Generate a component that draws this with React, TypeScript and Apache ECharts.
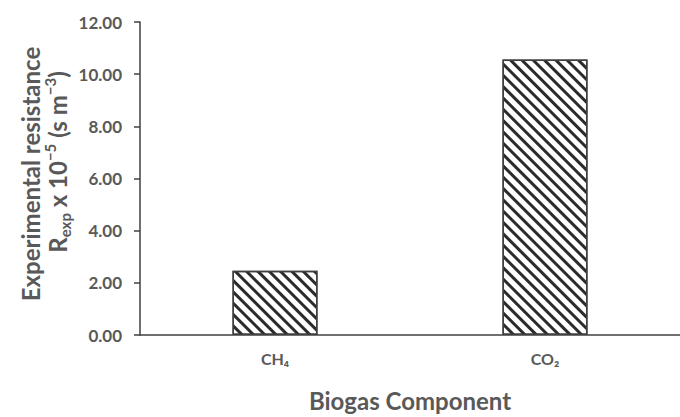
import React, { useEffect, useRef } from "react";
import * as echarts from "echarts";

const categories = ["CH₄", "CO₂"];
const values = [2.46, 10.56];
const yTicks = { min: 0, max: 12, interval: 2 };

const FONT = "Lato";
const TXT = "#595959";
const AX = "#404040";

export default function App() {
  const ref = useRef<HTMLDivElement>(null);
  useEffect(() => {
    const chart = echarts.init(ref.current!, undefined, { renderer: "svg" });
    chart.setOption({
      animation: false,
      grid: { left: 140, right: -7, top: 22, bottom: 73 },
      xAxis: {
        type: "category",
        data: categories,
        name: "Biogas Component",
        nameLocation: "middle",
        nameGap: 53,
        nameTextStyle: { fontFamily: FONT, fontWeight: "bold", fontSize: 24, color: TXT },
        axisLine: { lineStyle: { color: AX, width: 1.5 } },
        axisTick: { alignWithLabel: true, length: 4, lineStyle: { color: AX, width: 1.5 } },
        axisLabel: { fontFamily: FONT, fontWeight: "bold", fontSize: 16, color: TXT, margin: 15 },
      },
      yAxis: {
        type: "value",
        min: yTicks.min,
        max: yTicks.max,
        interval: yTicks.interval,
        splitLine: { show: false },
        axisLine: { show: true, lineStyle: { color: AX, width: 1.5 } },
        axisTick: { show: true, length: 6, lineStyle: { color: AX, width: 1.5 } },
        axisLabel: {
          fontFamily: FONT,
          fontWeight: "bold",
          fontSize: 17,
          color: TXT,
          margin: 18,
          formatter: (v: number) => v.toFixed(2),
        },
      },
      series: [
        {
          type: "bar",
          data: values,
          barWidth: "31.5%",
          itemStyle: {
            color: "#ffffff",
            borderColor: AX,
            borderWidth: 1.5,
            decal: {
              symbol: "rect",
              color: "#2b2b2b",
              dashArrayX: [1, 0],
              dashArrayY: [3, 4.5],
              rotation: Math.PI / 4,
            },
          },
        },
      ],
      graphic: [
        {
          type: "text",
          x: 30,
          y: 174,
          rotation: Math.PI / 2,
          style: {
            text: "Experimental resistance",
            fontFamily: FONT,
            fontWeight: "bold",
            fontSize: 24,
            fill: TXT,
            align: "center",
            verticalAlign: "middle",
          },
        },
        {
          type: "text",
          x: 57,
          y: 162,
          rotation: Math.PI / 2,
          style: {
            text: "{n|R}{sub|exp}{n| x 10}{sup|−5}{n| (s m}{sup|−3}{n|)}",
            align: "center",
            verticalAlign: "middle",
            rich: {
              n: { fontFamily: FONT, fontWeight: "bold", fontSize: 24, fill: TXT, lineHeight: 30, verticalAlign: "middle" },
              sub: { fontFamily: FONT, fontWeight: "bold", fontSize: 15, fill: TXT, lineHeight: 30, verticalAlign: "bottom" },
              sup: { fontFamily: FONT, fontWeight: "bold", fontSize: 15, fill: TXT, lineHeight: 30, verticalAlign: "top" },
            },
          },
        },
      ],
    });
    return () => chart.dispose();
  }, []);
  return <div ref={ref} style={{ position: "absolute", left: 0, top: 0, width: 680, height: 417 }} />;
}
